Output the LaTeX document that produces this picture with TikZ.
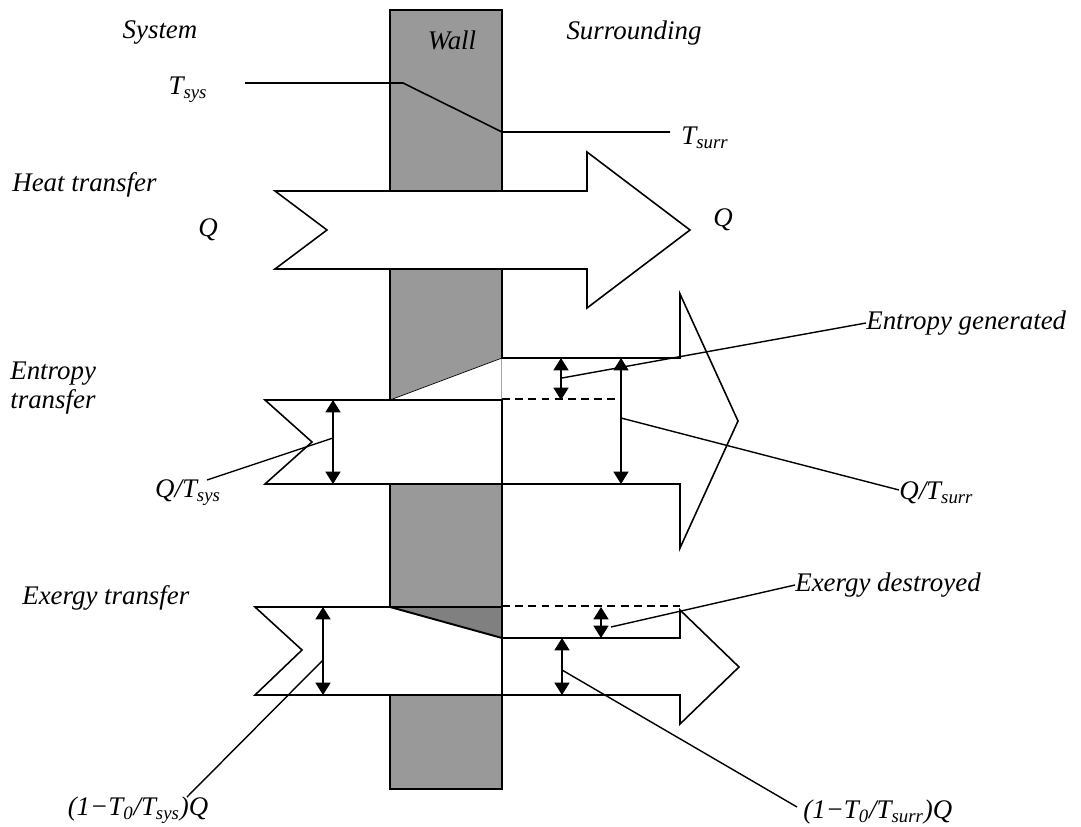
\documentclass[tikz,border=0pt]{standalone}
\usepackage{fontspec}
\setmainfont{Liberation Serif}
\usepackage{tikz}
\usetikzlibrary{arrows.meta, positioning, calc}

\begin{document}
\begin{tikzpicture}[
      x=0.02cm, y=-0.02cm,
      every node/.style={font=\fontsize{15.3}{17}\selectfont\itshape, inner sep=0pt},
      band/.style={draw, fill=white, line width=0.9pt},
      gauge/.style={{Triangle[length=7pt,width=8.5pt]}-{Triangle[length=7pt,width=8.5pt]}, line width=0.9pt},
      leader/.style={line width=0.8pt},
      gap/.style={dash pattern=on 4.5pt off 3pt, line width=0.9pt}
    ]
      \useasboundingbox (0,0) rectangle (1081,827);

      \draw[fill=black!40, line width=0.9pt] (390,10) rectangle (502,789);
      \node (sys) at (160,33) {System};
      \node (wall) at (452,40) {Wall};
      \node (surr) at (634,33) {Surrounding};

      \node (tsys) at (188,90) {T\textsubscript{sys}};
      \node (tsurr) at (705,138) {T\textsubscript{surr}};
      \coordinate (t1) at (245,83);
      \coordinate (t2) at (403,83);
      \coordinate (t3) at (502,132);
      \coordinate (t4) at (670,132);
      \draw[line width=0.9pt] (t1) -- (t2) -- (t3) -- (t4);

      \node[anchor=west] (heat) at (12,185) {Heat transfer};
      \draw[band] (275,191) -- (587,191) -- (587,152) -- (690,230) -- (587,308) -- (587,269) -- (275,269) -- (327,230) -- cycle;
      \node (qin) at (208,230) {Q};
      \node (qout) at (723,220) {Q};

      \node[anchor=west, align=left] (ent) at (10,388) {Entropy\\transfer};
      \fill[white] (390,400) -- (502,358) -- (502,400) -- cycle;
      \draw[thin] (390,400) -- (502,358) -- (502,400);
      \draw[band] (502,358) -- (680,358) -- (680,294) -- (738,421) -- (680,548) -- (680,484) -- (502,484);
      \draw[band] (265,400) -- (502,400) -- (502,484) -- (265,484) -- (312,442) -- cycle;
      \draw[gap] (502,399) -- (621,399);

      \coordinate (sa1) at (333,400);
      \coordinate (sa2) at (333,484);
      \coordinate (sb1) at (561,358);
      \coordinate (sb2) at (561,400);
      \coordinate (sc1) at (621,358);
      \coordinate (sc2) at (621,484);
      \draw[gauge] (sa1) -- (sa2);
      \draw[gauge] (sb1) -- (sb2);
      \draw[gauge] (sc1) -- (sc2);

      \node (lqsys) at (188,493) {Q/T\textsubscript{sys}};
      \node[anchor=west] (lgen) at (866,323) {Entropy generated};
      \node[anchor=west] (lqsurr) at (899,493) {Q/T\textsubscript{surr}};
      \coordinate (ma) at (333,438);
      \coordinate (mb) at (562,378);
      \coordinate (mc) at (621,418);
      \coordinate (ea) at (207,480);
      \draw[leader] (ma) -- (ea);
      \draw[leader] (mb) -- (lgen.west);
      \draw[leader] (mc) -- ($(lqsurr.west)+(0,-3)$);

      \node[anchor=west] (exg) at (22,598) {Exergy transfer};
      \draw[band] (502,638) -- (680,638) -- (680,610) -- (739,667) -- (680,724) -- (680,695) -- (502,695);
      \draw[band] (255,607) -- (502,607) -- (502,695) -- (255,695) -- (302,650) -- cycle;
      \draw[fill=black!50, line width=1.1pt] (390,607) -- (502,607) -- (502,638) -- cycle;
      \draw[gap] (502,606) -- (680,606);

      \coordinate (xa1) at (323,607);
      \coordinate (xa2) at (323,695);
      \coordinate (xb1) at (601,607);
      \coordinate (xb2) at (601,638);
      \coordinate (xc1) at (562,638);
      \coordinate (xc2) at (562,695);
      \draw[gauge] (xa1) -- (xa2);
      \draw[gauge] (xb1) -- (xb2);
      \draw[gauge] (xc1) -- (xc2);

      \node (lxsys) at (138,810) {(1−T\textsubscript{0}/T\textsubscript{sys})Q};
      \node[anchor=west] (ldes) at (795,585) {Exergy destroyed};
      \node[anchor=west] (lxsurr) at (803,812) {(1−T\textsubscript{0}/T\textsubscript{surr})Q};
      \coordinate (na) at (323,660);
      \coordinate (nb) at (611,627);
      \coordinate (nc) at (562,670);
      \coordinate (eb) at (187,797);
      \coordinate (ec) at (797,807);
      \draw[leader] (na) -- (eb);
      \draw[leader] (nb) -- (ldes.west);
      \draw[leader] (nc) -- (ec);
    \end{tikzpicture}
\end{document}
